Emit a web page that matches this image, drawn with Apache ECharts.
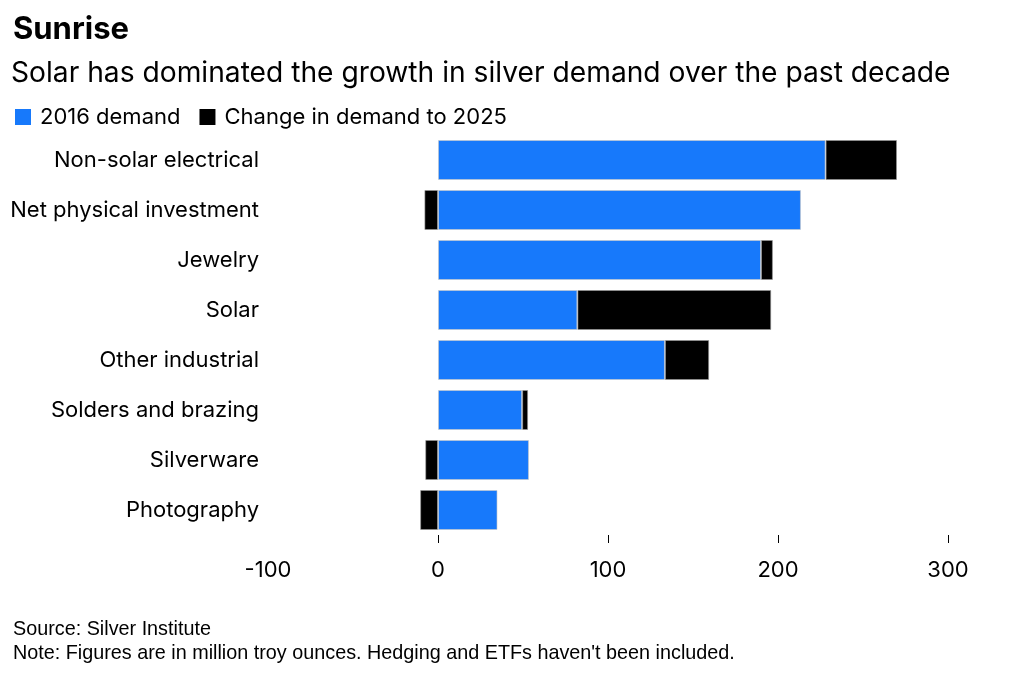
<!DOCTYPE html>
<html><head><meta charset="utf-8">
<script src="https://cdn.jsdelivr.net/npm/echarts@6/dist/echarts.min.js"></script>
<style>html,body{margin:0;padding:0;background:#fff}#c{width:1020px;height:678px}</style>
</head><body><div id="c"></div>
<script>
const categories = ["Non-solar electrical","Net physical investment","Jewelry","Solar","Other industrial","Solders and brazing","Silverware","Photography"];
const demand2016 = [228, 213.5, 190, 82, 133.5, 49.5, 53.5, 35];
const change2025 = [42, -8, 7, 114, 26, 3.5, -7.5, -10.5];
const tickValues = [0, 100, 200, 300];

const font = "Inter";
const chart = echarts.init(document.getElementById('c'));
chart.setOption({
  animation: false,
  backgroundColor: '#fff',
  title: [
    {text: 'Sunrise', left: 8, top: 9, textStyle: {fontFamily: font, fontSize: 31, fontWeight: 'bold', color: '#000'}},
    {text: 'Solar has dominated the growth in silver demand over the past decade', left: 6, top: 55, textStyle: {fontFamily: font, fontSize: 28.2, fontWeight: 'normal', color: '#000'}},
    {text: 'Source: Silver Institute\nNote: Figures are in million troy ounces. Hedging and ETFs haven\'t been included.', left: 8, top: 613,
     textStyle: {fontFamily: 'Liberation Sans', fontSize: 19.8, fontWeight: 'normal', color: '#000', lineHeight: 24}}
  ],
  legend: {
    left: 10, top: 101, itemWidth: 16, itemHeight: 16, itemGap: 19, icon: 'rect',
    itemStyle: {borderWidth: 0},
    textStyle: {fontFamily: font, fontSize: 22, color: '#000', padding: [0,0,0,4]},
    data: ['2016 demand', 'Change in demand to 2025']
  },
  grid: {left: 268, right: 72, top: 135, height: 400, containLabel: false},
  xAxis: {
    type: 'value', min: -100, max: 300, interval: 100,
    axisLine: {show: false},
    splitLine: {show: false},
    axisTick: {show: true, length: 8, customValues: tickValues, lineStyle: {color: '#000', width: 1}},
    axisLabel: {fontFamily: font, fontSize: 22, color: '#000', margin: 24}
  },
  yAxis: {
    type: 'category', data: categories, inverse: true,
    axisLine: {show: false}, axisTick: {show: false},
    axisLabel: {fontFamily: font, fontSize: 22, color: '#000', margin: 9}
  },
  series: [
    {name: '2016 demand', type: 'bar', stack: 'a', data: demand2016, barWidth: 40,
     itemStyle: {color: '#1779fb', borderColor: 'rgba(200,200,200,0.6)', borderWidth: 1}},
    {name: 'Change in demand to 2025', type: 'bar', stack: 'a', data: change2025, barWidth: 40,
     itemStyle: {color: '#000', borderColor: 'rgba(150,150,150,0.6)', borderWidth: 1}}
  ]
});
</script></body></html>
